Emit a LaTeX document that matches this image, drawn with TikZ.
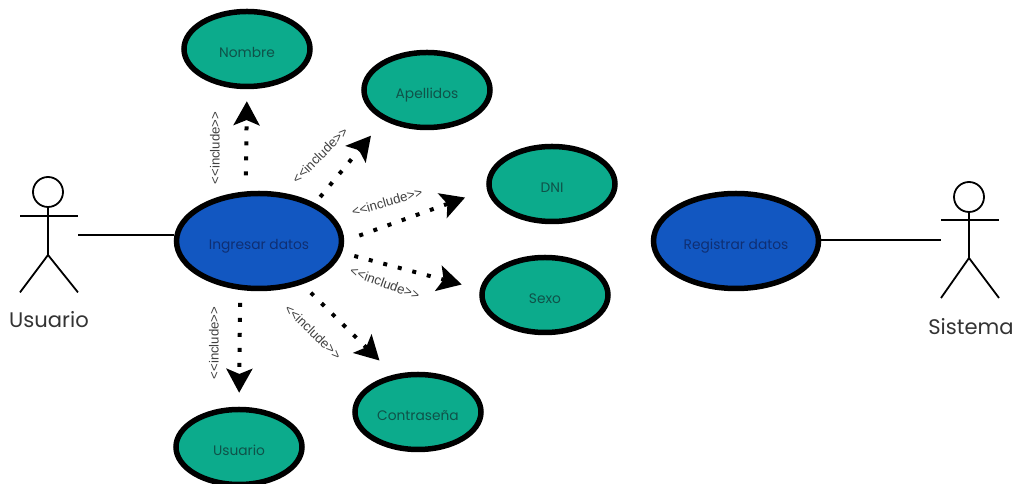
\documentclass[tikz,border=0pt]{standalone}
\usepackage{fontspec}
\setmainfont{Poppins}
\newfontfamily\includefont{Liberation Sans}
\usetikzlibrary{arrows.meta,shapes.geometric}
\definecolor{casegreen}{HTML}{0CAB8C}
\definecolor{caseblue}{HTML}{1257C1}
\definecolor{greentext}{HTML}{0F5249}
\definecolor{bluetext}{HTML}{0F2F73}
\tikzset{
  smallcase/.style={ellipse,draw=black,line width=0.1375cm,fill=casegreen,text=greentext,
    minimum width=3.15cm,minimum height=1.875cm,inner sep=0pt,text height=0.5cm,text depth=0.05cm,
    font=\fontsize{9.8}{11}\selectfont},
  bigcase/.style={ellipse,draw=black,line width=0.1375cm,fill=caseblue,text=bluetext,
    minimum width=4.125cm,minimum height=2.375cm,inner sep=0pt,text height=0.5cm,text depth=0.05cm,
    font=\fontsize{9.8}{11}\selectfont},
  actorline/.style={line width=0.045cm},
  actorhead/.style={circle,draw=black,line width=0.045cm,minimum size=0.75cm,inner sep=0pt},
  actorname/.style={text=black!80,font=\fontsize{15}{17}\selectfont},
  includearrow/.style={line width=0.1cm,dash pattern=on 0.1cm off 0.275cm,
    -{Stealth[length=0.6cm,width=0.65cm,inset=0.13cm]}},
  includetext/.style={text=black!75,inner sep=0pt,font=\includefont\fontsize{9.4}{11}\selectfont},
}
\begin{document}
\begin{tikzpicture}
  \useasboundingbox (0,0) rectangle (25.425,12.100);

  % Drawing the use cases
  \node [bigcase] (ingresar) at (6.475,6.075) {Ingresar datos};
  \node [bigcase] (registrar) at (18.400,6.075) {Registrar datos};
  \node [smallcase] (nombre) at (6.175,10.875) {Nombre};
  \node [smallcase] (apellidos) at (10.675,9.850) {Apellidos};
  \node [smallcase] (dni) at (13.800,7.500) {DNI};
  \node [smallcase] (sexo) at (13.625,4.725) {Sexo};
  \node [smallcase] (contrasena) at (10.450,1.800) {Contraseña};
  \node [smallcase] (usuariocase) at (5.975,0.925) {Usuario};

  % Drawing actor Usuario
  \node [actorhead] (usuariohead) at (1.200,7.300) {};
  \coordinate (usuariohip) at (1.200,5.725);
  \coordinate (usuariohand) at (1.950,6.700);
  \draw [actorline] (usuariohead) -- (usuariohip);
  \draw [actorline] (0.500,6.700) -- (usuariohand);
  \draw [actorline] (0.500,4.790) -- (usuariohip) -- (1.950,4.790);
  \node [actorname] (usuarioname) at (1.225,4.100) {Usuario};

  % Drawing actor Sistema
  \node [actorhead] (sistemahead) at (24.225,7.175) {};
  \coordinate (sistemahip) at (24.225,5.650);
  \coordinate (sistemahand) at (23.525,6.600);
  \draw [actorline] (sistemahead) -- (sistemahip);
  \draw [actorline] (sistemahand) -- (24.975,6.600);
  \draw [actorline] (23.525,4.650) -- (sistemahip) -- (24.975,4.650);
  \node [actorname] (sistemaname) at (24.275,3.925) {Sistema};

  % Drawing actor links
  \coordinate (usuariolink) at (1.950,6.225);
  \coordinate (sistemalink) at (23.525,6.100);
  \draw [actorline] (usuariolink) -- (usuariolink -| ingresar.west);
  \draw [actorline] (sistemalink -| registrar.east) -- (sistemalink);

  % Drawing include arrows
  \draw [includearrow,shorten <=0.40cm,shorten >=0.30cm] (ingresar.105) -- (nombre.south);
  \draw [includearrow,shorten <=0.20cm,shorten >=0.50cm] (ingresar.34) -- (apellidos.215);
  \draw [includearrow,shorten <=0.40cm,shorten >=0.58cm] (ingresar.east) -- (dni.185);
  \draw [includearrow,shorten <=0.32cm,shorten >=0.47cm] (ingresar.-8) -- (sexo.175);
  \draw [includearrow,shorten <=0.30cm,shorten >=0.50cm] (ingresar.-45) -- (contrasena.123);
  \draw [includearrow,shorten <=0.32cm,shorten >=0.35cm] (ingresar.249) -- (usuariocase.north);

  % Marking include labels
  \node [includetext,rotate=90] (includenombre) at (5.375,8.400) {<{}<include>{}>};
  \node [includetext,rotate=45] (includeapellidos) at (8.000,8.225) {<{}<include>{}>};
  \node [includetext,rotate=16] (includedni) at (9.675,7.050) {<{}<include>{}>};
  \node [includetext,rotate=-20] (includesexo) at (9.625,5.025) {<{}<include>{}>};
  \node [includetext,rotate=-44] (includecontrasena) at (7.825,3.800) {<{}<include>{}>};
  \node [includetext,rotate=90] (includeusuario) at (5.350,3.525) {<{}<include>{}>};
\end{tikzpicture}
\end{document}
